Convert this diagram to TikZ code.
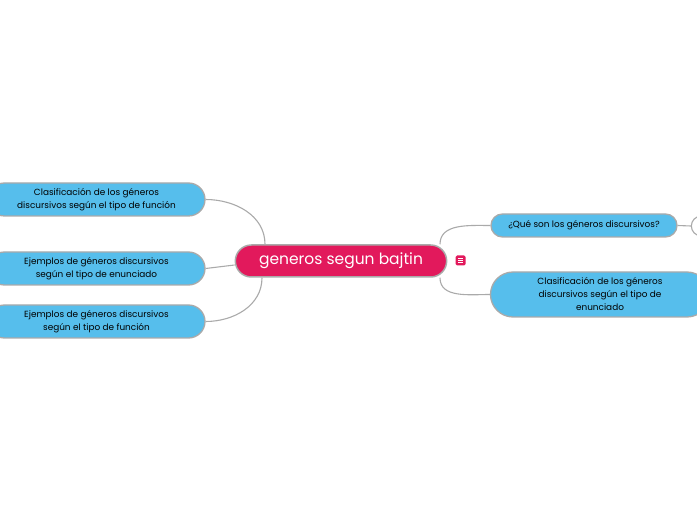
\documentclass[tikz,border=0pt]{standalone}
\usepackage{fontspec}
\setmainfont{Poppins}
\usepackage{tikz}
\usetikzlibrary{shapes.misc,positioning,backgrounds}
\definecolor{topicblue}{RGB}{86,190,236}
\definecolor{mainred}{RGB}{226,25,92}
\definecolor{edgegray}{RGB}{170,170,170}

\begin{document}
\begin{tikzpicture}[x=1pt,y=1pt,
    topic/.style={rounded rectangle, fill=topicblue, draw=edgegray, line width=1.3pt,
      align=center, font=\fontsize{8.9}{13}\selectfont, inner sep=0pt},
    link/.style={draw=edgegray, line width=1.1pt}]
      % Canvas
      \useasboundingbox (0,0) rectangle (697,520);
      % Central topic
      \node[rounded rectangle, fill=mainred, draw=edgegray, line width=1.5pt,
        minimum width=218, minimum height=32, text=white,
        font=\fontsize{15.5}{17}\selectfont] (main) at (341,259) {generos segun bajtin};
      % Note icon
      \node[fill=mainred, rounded corners=1.5pt, minimum size=10, inner sep=0pt] (note) at (460.5,259.5) {};
      \foreach \dy in {-2.2,0,2.2}
        \draw[white, line width=0.7pt] ([xshift=-2.6pt,yshift=\dy pt]note.center) -- ([xshift=2.6pt,yshift=\dy pt]note.center);
      % Left topics
      \node[topic, minimum width=217, minimum height=33] (clasfun) at (96.5,320.5)
        {Clasificación de los géneros\\discursivos según el tipo de función};
      \node[topic, minimum width=217, minimum height=33] (ejenun) at (96.5,251.5)
        {Ejemplos de géneros discursivos\\según el tipo de enunciado};
      \node[topic, minimum width=217, minimum height=33] (ejfun) at (96.5,198.5)
        {Ejemplos de géneros discursivos\\según el tipo de función};
      % Right topics
      \node[topic, minimum width=186, minimum height=23] (quees) at (584,294.5)
        {¿Qué son los géneros discursivos?};
      \node[topic, minimum width=219, minimum height=45] (clasenun) at (600,225.5)
        {Clasificación de los géneros\\discursivos según el tipo de\\enunciado};
      \node[rounded rectangle, fill=white, draw=edgegray, line width=1.1pt,
        minimum width=52, minimum height=20] (sub) at (714,294) {};
      % Links
      \begin{pgfonlayer}{background}
      \draw[link] (clasfun.east) to[out=0,in=90] ([xshift=-76pt]main.north);
      \draw[link] (ejenun.east) -- ([yshift=-4pt]main.west);
      \draw[link] (ejfun.east) to[out=0,in=-90] ([xshift=-79pt]main.south);
      \draw[link] ([xshift=99pt]main.north) to[out=90,in=180] (quees.west);
      \draw[link] ([xshift=99pt]main.south) to[out=-90,in=180] (clasenun.west);
      \draw[link] (quees.east) -- (sub.west);
      \end{pgfonlayer}
\end{tikzpicture}
\end{document}
